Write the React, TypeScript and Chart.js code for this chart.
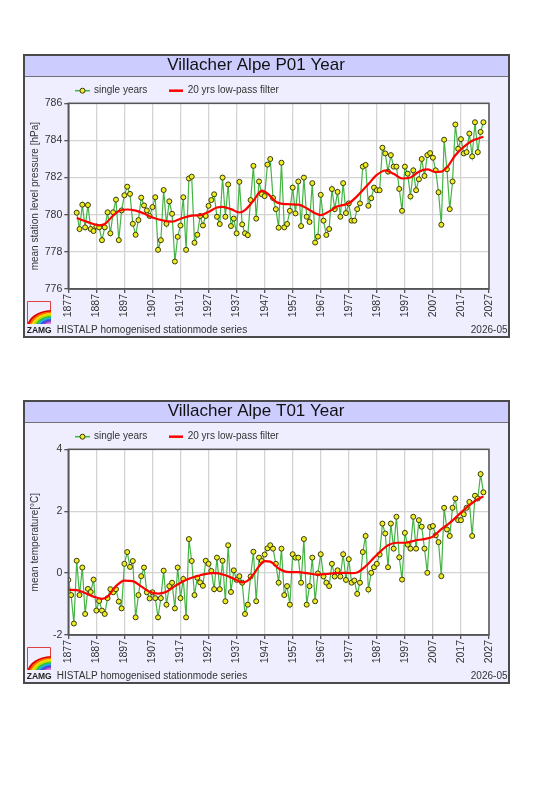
import React, { useEffect, useRef } from "react";
import { Chart, registerables } from "chart.js";

Chart.register(...registerables);
Chart.defaults.font.family = "'Liberation Sans', Arial, sans-serif";

// ---------- data ----------
const X_TICKS = [1877, 1887, 1897, 1907, 1917, 1927, 1937, 1947, 1957, 1967, 1977, 1987, 1997, 2007, 2017, 2027];

const P_TITLE = "Villacher Alpe P01 Year";
const P_YLABEL = "mean station level pressure [hPa]";
const P_Y_TICKS = [776, 778, 780, 782, 784, 786];
const P_FIRST_YEAR = 1880;
const P_VALUES = [
  780.11, 779.23, 780.54, 779.32, 780.52, 779.23, 779.12, 779.37, 779.32, 778.63,
  779.32, 780.13, 779.0, 780.13, 780.81, 778.63, 780.23, 781.05, 781.51, 781.12,
  779.51, 778.92, 779.71, 780.92, 780.5, 780.23, 779.93, 780.41, 780.94, 778.11,
  778.63, 781.33, 779.51, 780.72, 780.05, 777.48, 778.81, 779.42, 780.94, 778.11,
  781.95, 782.05, 778.49, 778.92, 779.93, 779.42, 779.93, 780.48, 780.79, 781.1,
  779.89, 779.5, 782.0, 779.89, 781.63, 779.39, 779.79, 779.0, 781.77, 779.48,
  779.0, 778.9, 780.79, 782.63, 779.79, 781.79, 781.1, 781.0, 782.7, 783.0,
  780.9, 780.3, 779.3, 782.8, 779.32, 779.5, 780.21, 781.46, 780.07, 781.79,
  779.39, 782.0, 779.89, 779.61, 781.7, 778.5, 778.82, 781.07, 779.68, 778.91,
  779.23, 781.38, 780.3, 781.23, 779.89, 781.7, 780.09, 780.61, 779.68, 779.68,
  780.3, 780.61, 782.59, 782.68, 780.48, 780.89, 781.46, 781.32, 781.32, 783.61,
  783.3, 782.32, 783.21, 782.59, 782.59, 781.39, 780.21, 782.59, 782.21, 780.98,
  782.39, 781.32, 781.91, 783.0, 782.09, 783.21, 783.32, 783.07, 782.39, 781.21,
  779.46, 784.04, 782.45, 780.3, 781.79, 784.86, 783.55, 784.07, 783.3, 783.37,
  784.37, 783.14, 784.98, 783.37, 784.46, 784.98,
];
const P_FILTER_YEARS = [
  1880, 1884, 1888, 1890, 1893, 1895, 1898, 1901, 1904, 1907, 1911, 1914, 1917, 1921,
  1924, 1927, 1930, 1932, 1935, 1938, 1940, 1943, 1946, 1948, 1951, 1955, 1959, 1962,
  1965, 1967, 1970, 1973, 1977, 1980, 1984, 1987, 1990, 1993, 1996, 1999, 2002, 2005,
  2008, 2010, 2012, 2015, 2018, 2021, 2025,
];
const P_FILTER_VALUES = [
  779.82, 779.6, 779.43, 779.5, 779.96, 780.2, 780.28, 780.22, 780.06, 779.85, 779.68, 779.63, 779.78, 779.95,
  779.98, 780.15, 780.39, 780.42, 780.3, 780.12, 780.25, 780.75, 781.3, 781.15, 780.7, 780.57, 780.54, 780.35,
  780.08, 779.98, 780.18, 780.45, 780.62, 781.0, 781.65, 782.14, 782.38, 782.2, 781.95, 782.0, 782.32, 782.44,
  782.3, 782.32, 782.55, 783.2, 783.65, 783.98, 784.2,
];

const T_TITLE = "Villacher Alpe T01 Year";
const T_YLABEL = "mean temperature[°C]";
const T_Y_TICKS = [-2, 0, 2, 4];
const T_FIRST_YEAR = 1877;
const T_VALUES = [
  -0.22, -0.71, -1.63, 0.4, -0.71, 0.18, -1.32, -0.51, -0.61, -0.21,
  -1.21, -0.9, -1.21, -1.32, -0.81, -0.52, -0.62, -0.52, -0.92, -1.14,
  0.3, 0.68, 0.2, 0.39, -1.43, -0.71, -0.1, 0.18, -0.62, -0.82,
  -0.62, -0.81, -1.43, -0.81, 0.08, -1.02, -0.42, -0.31, -1.14, 0.18,
  -0.81, -0.19, -1.43, 1.1, 0.39, -0.71, -0.15, -0.3, -0.41, 0.4,
  0.3, 0.07, -0.52, 0.5, -0.52, 0.4, -0.91, 0.9, -0.61, 0.09,
  -0.22, -0.1, -0.31, -1.32, -1.02, -0.11, 0.69, -0.91, 0.5, 0.39,
  0.6, 0.8, 0.9, 0.79, 0.3, -0.31, 0.79, -0.71, -0.42, -1.02,
  0.61, 0.5, 0.5, -0.31, 1.1, -1.02, -0.42, 0.5, -0.91, -0.01,
  0.61, -0.11, -0.31, -0.42, 0.3, -0.11, 0.09, -0.11, 0.61, -0.22,
  0.45, -0.31, -0.24, -0.67, -0.31, 0.68, 1.2, -0.53, 0.01, 0.19,
  0.3, 0.6, 1.6, 1.28, 0.19, 1.6, 0.79, 1.82, 0.51, -0.21,
  1.3, 0.92, 0.79, 1.82, 0.79, 1.71, 1.5, 0.79, 0.01, 1.49,
  1.52, 1.22, 1.0, -0.1, 2.11, 1.41, 1.2, 2.11, 2.41, 1.71,
  1.71, 1.9, 2.11, 2.3, 1.2, 2.5, 2.41, 3.2, 2.61,
];
const T_FILTER_YEARS = [
  1877, 1880, 1883, 1886, 1889, 1891, 1894, 1897, 1900, 1903, 1906, 1909, 1912, 1915,
  1918, 1921, 1924, 1928, 1930, 1933, 1936, 1939, 1941, 1943, 1945, 1947, 1949, 1952,
  1955, 1959, 1962, 1966, 1969, 1972, 1975, 1978, 1980, 1983, 1986, 1989, 1991, 1994,
  1997, 2001, 2004, 2007, 2010, 2013, 2016, 2019, 2022, 2025,
];
const T_FILTER_VALUES = [
  -0.54, -0.55, -0.64, -0.76, -0.83, -0.76, -0.42, -0.24, -0.26, -0.43, -0.6, -0.66, -0.6, -0.42,
  -0.26, -0.15, -0.07, 0.0, 0.0, -0.07, -0.18, -0.3, -0.24, -0.04, 0.22, 0.39, 0.37, 0.15,
  0.04, 0.03, 0.0, -0.05, -0.03, 0.0, 0.01, 0.0, 0.02, 0.22, 0.5, 0.76, 0.9, 0.98,
  0.98, 1.06, 1.1, 1.18, 1.42, 1.62, 1.87, 2.12, 2.33, 2.48,
];

const LABEL_SINGLE = "single years";
const LABEL_FILTER = "20 yrs low-pass filter";
const FOOTER_LEFT = "HISTALP homogenised stationmode series";
const FOOTER_RIGHT = "2026-05";
const LOGO_TEXT = "ZAMG";

// ---------- style ----------
const W = 487;
const H = 284;
const GREEN = "#44b444";
const RED = "#ff0000";
const MARKER_FILL = "#eeee22";
const MARKER_EDGE = "#3a3a10";
const FONT = "'Liberation Sans', Arial, sans-serif";

const decorPlugin = {
  id: "panelDecor",
  beforeDraw(chart: any) {
    const { ctx, chartArea: a } = chart;
    ctx.save();
    ctx.fillStyle = "#eeeeff";
    ctx.fillRect(0, 0, W, H);
    ctx.fillStyle = "#ccccff";
    ctx.fillRect(0, 0, W, 22);
    ctx.strokeStyle = "#707070";
    ctx.lineWidth = 1;
    ctx.beginPath();
    ctx.moveTo(0, 22.5);
    ctx.lineTo(W, 22.5);
    ctx.stroke();
    ctx.fillStyle = "#ffffff";
    ctx.fillRect(a.left, a.top, a.right - a.left, a.bottom - a.top);
    ctx.restore();
  },
  afterDraw(chart: any) {
    const { ctx, chartArea: a } = chart;
    const ds = chart.data.datasets;
    ctx.save();
    // plot frame
    ctx.strokeStyle = "#555555";
    ctx.lineWidth = 1.5;
    ctx.strokeRect(a.left, a.top, a.right - a.left, a.bottom - a.top);
    // legend
    const ly = 36.7;
    ctx.strokeStyle = GREEN;
    ctx.lineWidth = 1.5;
    ctx.beginPath();
    ctx.moveTo(52, ly);
    ctx.lineTo(67, ly);
    ctx.stroke();
    ctx.beginPath();
    ctx.arc(59.5, ly, 2.5, 0, Math.PI * 2);
    ctx.fillStyle = MARKER_FILL;
    ctx.fill();
    ctx.strokeStyle = MARKER_EDGE;
    ctx.lineWidth = 1;
    ctx.stroke();
    ctx.font = `10px ${FONT}`;
    ctx.fillStyle = "#333333";
    ctx.textBaseline = "middle";
    ctx.textAlign = "left";
    ctx.fillText(ds[1].label, 71, ly);
    ctx.strokeStyle = RED;
    ctx.lineWidth = 2.5;
    ctx.beginPath();
    ctx.moveTo(146, ly);
    ctx.lineTo(160, ly);
    ctx.stroke();
    ctx.fillText(ds[0].label, 164.7, ly);
    // logo
    ctx.save();
    ctx.beginPath();
    ctx.rect(4, 247, 24, 23);
    ctx.clip();
    const cx = 29;
    const cy = 274;
    const bands = ["#e00000", "#ff6a00", "#ffd800", "#b8e000", "#30c040", "#20b0e0", "#3050e0", "#9040c0", "#d080e0"];
    bands.forEach((c, i) => {
      ctx.strokeStyle = c;
      ctx.lineWidth = 2.2;
      ctx.beginPath();
      ctx.ellipse(cx, cy, 24 - i * 2, 17 - i * 1.5, 0, Math.PI, Math.PI * 1.5);
      ctx.stroke();
    });
    ctx.restore();
    ctx.strokeStyle = "#e04040";
    ctx.lineWidth = 1;
    ctx.beginPath();
    ctx.moveTo(4.5, 270);
    ctx.lineTo(4.5, 247.5);
    ctx.lineTo(27.5, 247.5);
    ctx.lineTo(27.5, 256);
    ctx.stroke();
    // footer
    ctx.fillStyle = "#222222";
    ctx.font = `bold 8.5px ${FONT}`;
    ctx.textBaseline = "middle";
    ctx.fillText(LOGO_TEXT, 3.7, 276.5);
    ctx.font = `10px ${FONT}`;
    ctx.fillStyle = "#333333";
    ctx.fillText(FOOTER_LEFT, 33.7, 276.5);
    ctx.textAlign = "right";
    ctx.fillText(FOOTER_RIGHT, 484.5, 276.5);
    // panel border
    ctx.strokeStyle = "#4a4a4a";
    ctx.lineWidth = 2;
    ctx.strokeRect(1, 1, W - 2, H - 2);
    ctx.restore();
  },
};

type PanelProps = {
  title: string;
  yLabel: string;
  yTicks: number[];
  firstYear: number;
  values: number[];
  filterYears: number[];
  filterValues: number[];
  top: number;
};

function Panel(props: PanelProps) {
  const ref = useRef<HTMLCanvasElement>(null);
  useEffect(() => {
    const { title, yLabel, yTicks, firstYear, values, filterYears, filterValues } = props;
    const single = values.map((v, i) => ({ x: firstYear + i, y: v }));
    const filt = filterYears.map((yr, i) => ({ x: yr, y: filterValues[i] }));
    const chart = new Chart(ref.current as HTMLCanvasElement, {
      type: "line",
      data: {
        datasets: [
          {
            label: LABEL_FILTER,
            data: filt,
            borderColor: RED,
            borderWidth: 2.2,
            pointRadius: 0,
            tension: 0.4,
            cubicInterpolationMode: "monotone",
            fill: false,
          },
          {
            label: LABEL_SINGLE,
            data: single,
            borderColor: GREEN,
            borderWidth: 1.2,
            pointRadius: 2.5,
            pointBackgroundColor: MARKER_FILL,
            pointBorderColor: MARKER_EDGE,
            pointBorderWidth: 1,
            tension: 0,
            fill: false,
          },
        ],
      },
      options: {
        animation: false,
        responsive: false,
        devicePixelRatio: 1,
        layout: { padding: { left: 0, right: 21, top: 0, bottom: 0 } },
        plugins: {
          legend: { display: false },
          tooltip: { enabled: false },
          title: {
            display: true,
            text: title,
            color: "#111111",
            font: { size: 17, weight: "normal", family: FONT },
            padding: { top: 1, bottom: 27.9 },
          },
        },
        scales: {
          x: {
            type: "linear",
            min: X_TICKS[0],
            max: X_TICKS[X_TICKS.length - 1],
            afterBuildTicks: (s: any) => {
              s.ticks = X_TICKS.map((v) => ({ value: v }));
            },
            afterFit: (s: any) => {
              s.height = 49;
            },
            ticks: {
              autoSkip: false,
              minRotation: 90,
              maxRotation: 90,
              padding: 1,
              color: "#333333",
              font: { size: 10.5, family: FONT },
              callback: (v: any) => String(v),
            },
            grid: { color: "#d4d4d4", lineWidth: 1.3, tickLength: 4, tickColor: "#555555" },
            border: { display: true, color: "#555555", width: 1.5 },
          },
          y: {
            type: "linear",
            min: yTicks[0],
            max: yTicks[yTicks.length - 1],
            afterBuildTicks: (s: any) => {
              s.ticks = yTicks.map((v) => ({ value: v }));
            },
            afterFit: (s: any) => {
              s.width = 45.3;
            },
            ticks: {
              padding: 2,
              color: "#333333",
              font: { size: 10.5, family: FONT },
              callback: (v: any) => String(v),
            },
            title: {
              display: true,
              text: yLabel,
              color: "#333333",
              font: { size: 10, family: FONT },
              padding: { top: 6.7, bottom: 0 },
            },
            grid: { color: "#d4d4d4", lineWidth: 1.3, tickLength: 4, tickColor: "#555555" },
            border: { display: true, color: "#555555", width: 1.5 },
          },
        },
      },
      plugins: [decorPlugin],
    } as any);
    return () => chart.destroy();
  }, []);
  return (
    <canvas
      ref={ref}
      width={W}
      height={H}
      style={{ position: "absolute", left: 15, top: props.top, width: W, height: H }}
    />
  );
}

export default function App() {
  return (
    <div style={{ position: "relative", width: 517, height: 784 }}>
      <Panel
        title={P_TITLE}
        yLabel={P_YLABEL}
        yTicks={P_Y_TICKS}
        firstYear={P_FIRST_YEAR}
        values={P_VALUES}
        filterYears={P_FILTER_YEARS}
        filterValues={P_FILTER_VALUES}
        top={46}
      />
      <Panel
        title={T_TITLE}
        yLabel={T_YLABEL}
        yTicks={T_Y_TICKS}
        firstYear={T_FIRST_YEAR}
        values={T_VALUES}
        filterYears={T_FILTER_YEARS}
        filterValues={T_FILTER_VALUES}
        top={392}
      />
    </div>
  );
}
